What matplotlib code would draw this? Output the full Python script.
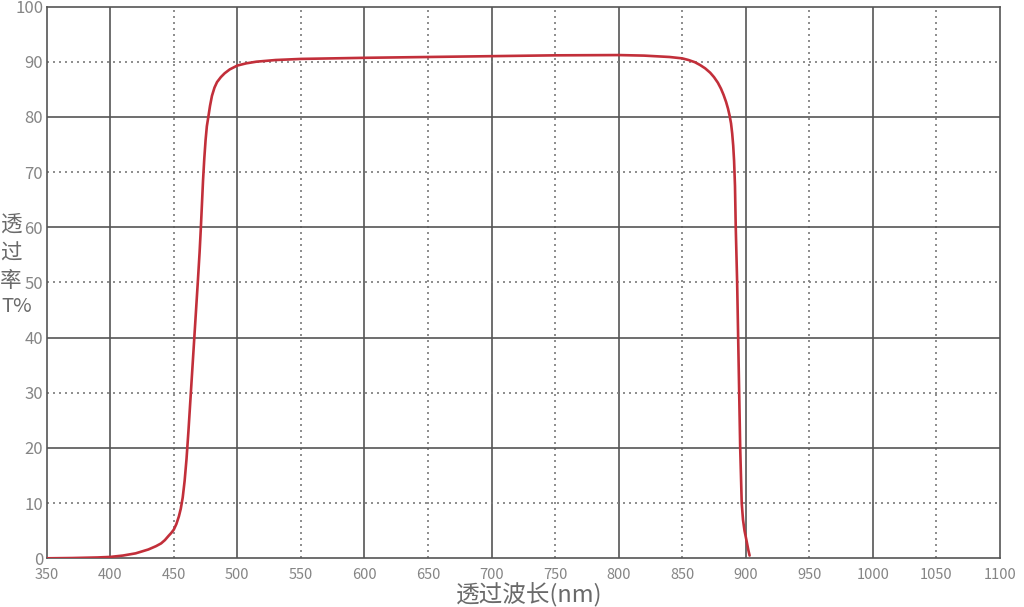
import matplotlib
matplotlib.use("Agg")
import matplotlib.pyplot as plt

plt.rcParams['font.family'] = ['Noto Sans CJK SC', 'DejaVu Sans']

wavelength = [350, 370, 390, 400, 410, 420, 430, 436, 440, 443, 446, 448, 450, 452,
              454, 455.5, 457, 458.5, 460, 461.5, 463, 464.5, 466, 467.5, 469, 470.3,
              471.3, 472.2, 473, 474, 475, 476, 477.3, 478.5, 480, 482, 484, 487,
              490, 494, 500, 507, 515, 530, 550, 600, 650, 700, 750, 800, 820, 840,
              850, 855, 860, 864, 868, 872, 875, 878, 880.5, 882.5, 884.5, 886, 887.3,
              888.4, 889.3, 890.1, 890.8, 891.5, 892.1, 893.2, 894, 894.8, 895.6,
              896.8, 897.8, 899, 900.5, 902, 903]
transmittance = [0.0, 0.05, 0.15, 0.25, 0.5, 0.9, 1.6, 2.2, 2.7, 3.3, 4.1, 4.6, 5.2, 6.2,
                 7.6, 9.0, 11.0, 14.0, 18.0, 23.0, 28.5, 34.0, 39.5, 45.0, 50.5, 55.5,
                 60.0, 64.5, 68.5, 72.5, 75.8, 78.3, 80.2, 82.0, 83.8, 85.3, 86.3, 87.2,
                 87.9, 88.6, 89.3, 89.7, 90.0, 90.3, 90.5, 90.7, 90.85, 91.0, 91.15, 91.2, 91.1, 90.85,
                 90.6, 90.3, 89.9, 89.4, 88.8, 88.0, 87.2, 86.2, 85.1, 84.0, 82.7, 81.5, 80.2,
                 78.8, 77.0, 74.8, 72.0, 67.5, 60.0, 50.0, 40.0, 30.0, 20.0,
                 10.0, 7.0, 5.0, 3.3, 1.5, 0.5]

x_ticks = list(range(350, 1101, 50))
y_ticks = list(range(0, 101, 10))
x_label = "透过波长(nm)"
y_label_lines = ["透", "过", "率", "T%"]

fig = plt.figure(figsize=(10.24, 6.07), dpi=100)
ax = fig.add_axes([46.7/1024, 1-558.3/607, (1000-46.7)/1024, (558.3-6.5)/607])

ax.set_xlim(350, 1100)
ax.set_ylim(0, 100)

grid_dark = '#555555'
grid_dot = '#7a7a7a'
dot_style = (0, (1.2, 2.4))
for xv in x_ticks:
    if xv in (350, 1100):
        continue
    if xv % 100 == 0:
        ax.axvline(xv, color=grid_dark, lw=1.2, zorder=1)
    else:
        ax.axvline(xv, color=grid_dot, lw=1.2, ls=dot_style, zorder=1)
for yv in y_ticks:
    if yv in (0, 100):
        continue
    if yv % 20 == 0:
        ax.axhline(yv, color=grid_dark, lw=1.2, zorder=1)
    else:
        ax.axhline(yv, color=grid_dot, lw=1.2, ls=dot_style, zorder=1)

for s in ax.spines.values():
    s.set_color(grid_dark)
    s.set_linewidth(1.2)

ax.plot(wavelength, transmittance, color='#c22f3a', lw=1.9, zorder=3,
        solid_capstyle='round', solid_joinstyle='round')

ax.set_xticks(x_ticks)
ax.set_yticks(y_ticks)
ax.tick_params(axis='x', length=0, labelsize=10.5, labelcolor='#858585', pad=7)
ax.tick_params(axis='y', length=0, labelsize=12, labelcolor='#858585', pad=2.5)

fig.text(529/1024, 1-595/607, x_label, fontsize=17, color='#6a6a6a', ha='center', va='center')
y_centers = [225, 254, 281, 306]
x_centers = [11, 11, 11, 17]
for txt, yc, xc in zip(y_label_lines, y_centers, x_centers):
    fig.text(xc/1024, 1-yc/607, txt, fontsize=15.5 if txt != "T%" else 14.5,
             color='#6a6a6a', ha='center', va='center')

fig.savefig("out.png", dpi=100, facecolor='white')
